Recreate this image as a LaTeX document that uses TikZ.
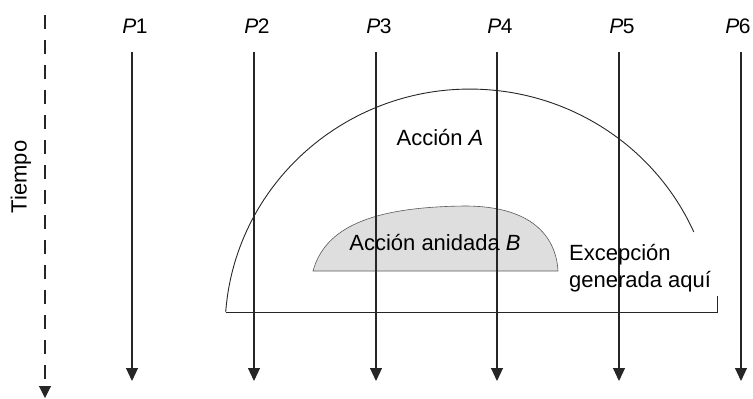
\documentclass[tikz,border=0pt]{standalone}
\usepackage{fontspec}
\setmainfont{Liberation Sans}
\usetikzlibrary{arrows.meta}
\begin{document}
\begin{tikzpicture}[x=1pt,y=1pt,
  proc/.style={draw=black!85, line width=1.1pt, -{Triangle[width=12pt,length=13pt]}},
  timeaxis/.style={draw=black!85, line width=1.1pt, dash pattern=on 14pt off 11pt, -{Triangle[width=12pt,length=12pt]}},
  arcline/.style={draw=black!85, line width=0.9pt},
  nestfill/.style={fill=black!13, draw=black!65, line width=0.6pt},
  lbl/.style={font=\fontsize{22}{26}\selectfont, inner sep=0pt},
  plbl/.style={font=\fontsize{21}{25}\selectfont, inner sep=0pt, anchor=base}]
\useasboundingbox (0,0) rectangle (753,-399);

% nested action B (shaded)
\path[nestfill] (313,-271) .. controls (325,-228) and (370,-207) .. (465,-206)
  .. controls (530,-206) and (556,-235) .. (558,-271) -- cycle;

% time axis
\coordinate (ttop) at (45,-15);
\coordinate (tbot) at (45,-398);
\draw[timeaxis] (ttop) -- (tbot);
\node[lbl, rotate=90] (tiempo) at (21,-177) {Tiempo};

% processes
\foreach \i/\x/\lx in {1/132/135,2/254/257,3/376/379,4/497/500,5/619/622,6/741/738}{
  \coordinate (t\i) at (\x,-52);
  \coordinate (b\i) at (\x,-381);
  \draw[proc] (t\i) -- (b\i);
  \node[plbl] (p\i) at (\lx,-33) {\textit{P}\kern-0.5pt\i};
}

% action A boundary
\coordinate (A0) at (225.7,-312);
\coordinate (Bend) at (717,-312);
\coordinate (Btick) at (717,-296);
\draw[arcline] (A0) arc[start angle=175.7, end angle=24, x radius=245pt, y radius=241pt];
\draw[arcline] (A0) -- (Bend) -- (Btick);

% labels
\node[lbl, anchor=base] (accA) at (440,-145) {Acción \textit{A}};
\node[lbl, anchor=base] (accB) at (435,-250) {Acción anidada \textit{B}};
\node[lbl, anchor=base west] (exc1) at (569,-260) {Excepción};
\node[lbl, anchor=base west] (exc2) at (569,-287) {generada aquí};
\end{tikzpicture}
\end{document}
